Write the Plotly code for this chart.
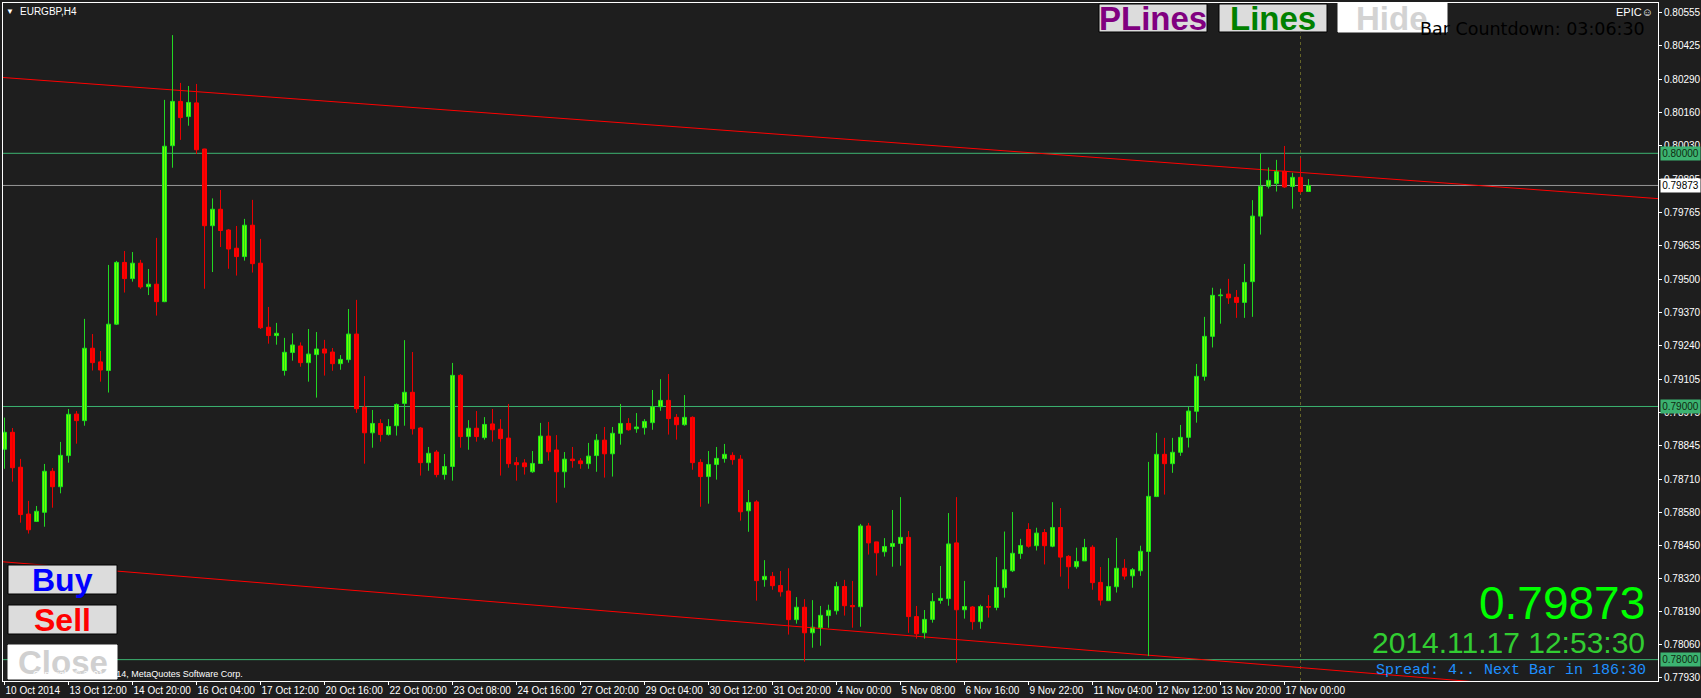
import plotly.graph_objects as go

# ---------------- data (EURGBP H4) ----------------
opens = [0.78831, 0.78898, 0.78760, 0.78575, 0.78546, 0.78582, 0.78744, 0.78683, 0.78806, 0.78970,
         0.78944, 0.79230, 0.79176, 0.79142, 0.79325, 0.79569, 0.79505, 0.79566, 0.79473, 0.79483,
         0.79414, 0.80030, 0.80205, 0.80145, 0.80199, 0.80017, 0.79714, 0.79779, 0.79697, 0.79625,
         0.79592, 0.79716, 0.79566, 0.79313, 0.79280, 0.79142, 0.79213, 0.79239, 0.79173, 0.79205,
         0.79227, 0.79215, 0.79169, 0.79185, 0.79286, 0.78997, 0.78896, 0.78933, 0.78889, 0.78924,
         0.79012, 0.79056, 0.78915, 0.78778, 0.78820, 0.78731, 0.78763, 0.79123, 0.78881, 0.78914,
         0.78877, 0.78931, 0.78910, 0.78875, 0.78778, 0.78777, 0.78742, 0.78775, 0.78883, 0.78828,
         0.78742, 0.78792, 0.78785, 0.78774, 0.78806, 0.78867, 0.78813, 0.78894, 0.78933, 0.78912,
         0.78916, 0.78936, 0.78999, 0.79024, 0.78957, 0.78928, 0.78957, 0.78779, 0.78723, 0.78771,
         0.78794, 0.78807, 0.78792, 0.78588, 0.78623, 0.78316, 0.78329, 0.78293, 0.78271, 0.78158,
         0.78207, 0.78106, 0.78126, 0.78174, 0.78193, 0.78289, 0.78214, 0.78209, 0.78528, 0.78465,
         0.78426, 0.78447, 0.78459, 0.78483, 0.78170, 0.78106, 0.78159, 0.78234, 0.78241, 0.78461,
         0.78197, 0.78208, 0.78150, 0.78210, 0.78206, 0.78284, 0.78351, 0.78419, 0.78514, 0.78450,
         0.78502, 0.78448, 0.78522, 0.78408, 0.78367, 0.78390, 0.78444, 0.78305, 0.78233, 0.78288,
         0.78361, 0.78331, 0.78351, 0.78427, 0.78644, 0.78811, 0.78774, 0.78819, 0.78878, 0.78981,
         0.79119, 0.79277, 0.79438, 0.79444, 0.79431, 0.79411, 0.79493, 0.79752, 0.79870, 0.79881,
         0.79929, 0.79869, 0.79905, 0.79849]
highs = [0.78956, 0.78915, 0.78793, 0.78627, 0.78607, 0.78773, 0.78757, 0.78860, 0.78990, 0.78982,
         0.79346, 0.79286, 0.79219, 0.79559, 0.79575, 0.79614, 0.79610, 0.79579, 0.79543, 0.79666,
         0.80211, 0.80467, 0.80278, 0.80266, 0.80274, 0.80018, 0.79822, 0.79855, 0.79701, 0.79713,
         0.79741, 0.79816, 0.79662, 0.79393, 0.79330, 0.79271, 0.79289, 0.79253, 0.79306, 0.79294,
         0.79263, 0.79231, 0.79203, 0.79385, 0.79421, 0.79120, 0.78986, 0.78950, 0.78950, 0.79012,
         0.79262, 0.79215, 0.78919, 0.78840, 0.78828, 0.78812, 0.79172, 0.79128, 0.78946, 0.78982,
         0.78958, 0.78990, 0.78950, 0.79010, 0.78800, 0.78792, 0.78824, 0.78935, 0.78939, 0.78887,
         0.78820, 0.78840, 0.78796, 0.78856, 0.78891, 0.78919, 0.78919, 0.79010, 0.78954, 0.78974,
         0.78950, 0.79065, 0.79108, 0.79128, 0.78970, 0.79045, 0.78961, 0.78792, 0.78824, 0.78840,
         0.78852, 0.78819, 0.78808, 0.78670, 0.78630, 0.78393, 0.78346, 0.78350, 0.78361, 0.78247,
         0.78239, 0.78235, 0.78212, 0.78217, 0.78307, 0.78315, 0.78311, 0.78536, 0.78540, 0.78465,
         0.78480, 0.78591, 0.78642, 0.78508, 0.78212, 0.78196, 0.78263, 0.78370, 0.78579, 0.78642,
         0.78311, 0.78212, 0.78217, 0.78255, 0.78405, 0.78506, 0.78583, 0.78477, 0.78539, 0.78521,
         0.78516, 0.78622, 0.78599, 0.78413, 0.78442, 0.78477, 0.78452, 0.78366, 0.78401, 0.78481,
         0.78397, 0.78362, 0.78450, 0.78781, 0.78896, 0.78876, 0.78876, 0.78927, 0.78998, 0.79168,
         0.79354, 0.79469, 0.79465, 0.79504, 0.79460, 0.79563, 0.79815, 0.80000, 0.79944, 0.79974,
         0.80029, 0.79923, 0.79982, 0.79898]
lows = [0.78754, 0.78703, 0.78541, 0.78498, 0.78544, 0.78525, 0.78600, 0.78657, 0.78778, 0.78853,
        0.78924, 0.79142, 0.79098, 0.79055, 0.79322, 0.79450, 0.79493, 0.79465, 0.79440, 0.79359,
        0.79412, 0.79943, 0.80053, 0.80109, 0.79997, 0.79465, 0.79531, 0.79630, 0.79544, 0.79517,
        0.79576, 0.79529, 0.79306, 0.79248, 0.79244, 0.79122, 0.79181, 0.79157, 0.79098, 0.79035,
        0.79122, 0.79141, 0.79145, 0.79173, 0.78975, 0.78774, 0.78837, 0.78861, 0.78885, 0.78885,
        0.78924, 0.78889, 0.78727, 0.78746, 0.78720, 0.78711, 0.78707, 0.78837, 0.78829, 0.78861,
        0.78869, 0.78861, 0.78727, 0.78758, 0.78707, 0.78731, 0.78738, 0.78773, 0.78786, 0.78620,
        0.78679, 0.78758, 0.78754, 0.78754, 0.78742, 0.78719, 0.78723, 0.78849, 0.78904, 0.78896,
        0.78889, 0.78908, 0.78983, 0.78889, 0.78869, 0.78924, 0.78750, 0.78604, 0.78616, 0.78711,
        0.78778, 0.78770, 0.78549, 0.78505, 0.78233, 0.78288, 0.78276, 0.78249, 0.78099, 0.78142,
        0.77992, 0.78047, 0.78055, 0.78126, 0.78178, 0.78174, 0.78126, 0.78130, 0.78415, 0.78332,
        0.78407, 0.78367, 0.78371, 0.78106, 0.78083, 0.78083, 0.78146, 0.78221, 0.78213, 0.77988,
        0.78162, 0.78118, 0.78122, 0.78166, 0.78195, 0.78245, 0.78346, 0.78398, 0.78442, 0.78431,
        0.78376, 0.78444, 0.78328, 0.78280, 0.78359, 0.78390, 0.78276, 0.78214, 0.78233, 0.78265,
        0.78316, 0.78284, 0.78331, 0.78014, 0.78644, 0.78652, 0.78738, 0.78805, 0.78838, 0.78936,
        0.79102, 0.79233, 0.79327, 0.79405, 0.79350, 0.79350, 0.79354, 0.79679, 0.79861, 0.79849,
        0.79863, 0.79781, 0.79841, 0.79849]
closes = [0.78898, 0.78758, 0.78573, 0.78513, 0.78586, 0.78744, 0.78683, 0.78807, 0.78969, 0.78944,
          0.79230, 0.79173, 0.79144, 0.79325, 0.79569, 0.79505, 0.79566, 0.79472, 0.79483, 0.79414,
          0.80028, 0.80205, 0.80141, 0.80201, 0.80014, 0.79714, 0.79779, 0.79695, 0.79622, 0.79592,
          0.79716, 0.79564, 0.79311, 0.79280, 0.79289, 0.79214, 0.79243, 0.79173, 0.79207, 0.79227,
          0.79211, 0.79169, 0.79186, 0.79286, 0.78991, 0.78896, 0.78933, 0.78889, 0.78921, 0.79008,
          0.79056, 0.78912, 0.78778, 0.78815, 0.78731, 0.78763, 0.79123, 0.78881, 0.78914, 0.78881,
          0.78929, 0.78908, 0.78873, 0.78774, 0.78770, 0.78762, 0.78775, 0.78883, 0.78821, 0.78742,
          0.78792, 0.78786, 0.78774, 0.78804, 0.78867, 0.78813, 0.78894, 0.78933, 0.78908, 0.78919,
          0.78941, 0.78999, 0.79024, 0.78952, 0.78928, 0.78957, 0.78778, 0.78723, 0.78771, 0.78795,
          0.78811, 0.78790, 0.78584, 0.78621, 0.78312, 0.78329, 0.78292, 0.78268, 0.78158, 0.78207,
          0.78106, 0.78128, 0.78175, 0.78195, 0.78289, 0.78213, 0.78209, 0.78528, 0.78461, 0.78422,
          0.78447, 0.78459, 0.78483, 0.78170, 0.78102, 0.78159, 0.78230, 0.78242, 0.78457, 0.78197,
          0.78210, 0.78150, 0.78210, 0.78207, 0.78285, 0.78355, 0.78420, 0.78451, 0.78448, 0.78500,
          0.78450, 0.78522, 0.78405, 0.78367, 0.78388, 0.78443, 0.78304, 0.78235, 0.78289, 0.78361,
          0.78330, 0.78355, 0.78428, 0.78645, 0.78811, 0.78774, 0.78819, 0.78878, 0.78982, 0.79119,
          0.79277, 0.79439, 0.79440, 0.79429, 0.79411, 0.79490, 0.79752, 0.79870, 0.79893, 0.79929,
          0.79867, 0.79905, 0.79849, 0.79873]

time_tick_bars = [0, 8, 16, 24, 32, 40, 48, 56, 64, 72, 80, 88, 96, 104, 112, 120, 128, 136, 144, 152, 160]
time_tick_text = ["10 Oct 2014", "13 Oct 12:00", "14 Oct 20:00", "16 Oct 04:00", "17 Oct 12:00",
                  "20 Oct 16:00", "22 Oct 00:00", "23 Oct 08:00", "24 Oct 16:00", "27 Oct 20:00",
                  "29 Oct 04:00", "30 Oct 12:00", "31 Oct 20:00", "4 Nov 00:00", "5 Nov 08:00",
                  "6 Nov 16:00", "9 Nov 22:00", "11 Nov 04:00", "12 Nov 12:00", "13 Nov 20:00",
                  "17 Nov 00:00"]
price_ticks = [0.80555, 0.80425, 0.80290, 0.80160, 0.80030, 0.79895, 0.79765, 0.79635, 0.79500,
               0.79370, 0.79240, 0.79105, 0.78975, 0.78845, 0.78710, 0.78580, 0.78450, 0.78320,
               0.78190, 0.78060, 0.77930]
level_lines = [0.80000, 0.79000, 0.78000]
bid_price = 0.79873
upper_trend_bars = [0, 163]
upper_trend_prices = [0.80299, 0.79922]
lower_trend_bars = [0, 163]
lower_trend_prices = [0.78386, 0.77966]
separator_bar = 162

# ---------------- layout geometry ----------------
W, H = 1701, 698
PL, PR, PT, PB = 3, 1658, 3, 681
X_RANGE = [-0.1875, 206.6875]
Y_RANGE = [0.779156, 0.805937]
BG = "#1e1e1e"


def px_x(px):
    return (px - PL) / (PR - PL)


def px_y(py):
    return (PB - py) / (PB - PT)


fig = go.Figure()

shapes = []
for lv in level_lines:
    shapes.append(dict(type="line", xref="paper", yref="y", x0=0, x1=1, y0=lv, y1=lv,
                       line=dict(color="#3cb371", width=1), layer="below"))
shapes.append(dict(type="line", xref="paper", yref="y", x0=0, x1=1, y0=bid_price, y1=bid_price,
                   line=dict(color="#969696", width=1), layer="below"))
shapes.append(dict(type="line", xref="x", yref="paper", x0=separator_bar, x1=separator_bar, y0=0, y1=1,
                   line=dict(color="rgb(100,100,40)", width=1, dash="3px,3px"), layer="below"))


def extend(bars, prices):
    slope = (prices[1] - prices[0]) / (bars[1] - bars[0])
    xa, xb = X_RANGE
    return [xa, xb], [prices[0] + slope * (xa - bars[0]), prices[0] + slope * (xb - bars[0])]


for b, p in [(upper_trend_bars, upper_trend_prices), (lower_trend_bars, lower_trend_prices)]:
    xs, ys = extend(b, p)
    fig.add_trace(go.Scatter(x=xs, y=ys, mode="lines", line=dict(color="#ff0000", width=1),
                             hoverinfo="skip", cliponaxis=True))

n = len(opens)
bull = [i for i in range(n) if closes[i] >= opens[i]]
bear = [i for i in range(n) if closes[i] < opens[i]]
MIN_BODY = 0.00003


def wicks(ids):
    xs, ys = [], []
    for i in ids:
        xs += [i, i, None]
        ys += [lows[i], highs[i], None]
    return xs, ys


def bodies(ids):
    base, hh = [], []
    for i in ids:
        lo, hi = min(opens[i], closes[i]), max(opens[i], closes[i])
        d = hi - lo
        if d < MIN_BODY:
            lo -= (MIN_BODY - d) / 2
            d = MIN_BODY
        base.append(lo)
        hh.append(d)
    return base, hh


for ids, wcol, fill, border in [(bull, "#22d822", "#70ff00", "#18e818"),
                                (bear, "#e80000", "#ff0000", "#ff0000")]:
    wx, wy = wicks(ids)
    fig.add_trace(go.Scatter(x=wx, y=wy, mode="lines", line=dict(color=wcol, width=1),
                             hoverinfo="skip"))
    base, hh = bodies(ids)
    fig.add_trace(go.Bar(x=ids, y=hh, base=base, width=0.5,
                         marker=dict(color=fill, line=dict(color=border, width=1)),
                         hoverinfo="skip"))


def rect(x0, y0, x1, y1, fill, line):
    return dict(type="rect", xref="paper", yref="paper", x0=px_x(x0), x1=px_x(x1),
                y0=px_y(y1), y1=px_y(y0), fillcolor=fill, line=dict(color=line, width=1), layer="above")


shapes += [
    rect(1099, 4, 1207, 32, "#dcdcdc", "#000000"),
    rect(1219, 4, 1327, 32, "#dcdcdc", "#000000"),
    rect(1338, 3, 1447, 32, "#ffffff", "#ffffff"),
    rect(8, 565, 117, 594, "#dcdcdc", "#000000"),
    rect(8, 605, 117, 634, "#dcdcdc", "#000000"),
    rect(8, 645, 117, 679, "#ffffff", "#ffffff"),
]

ann = []


def text(t, x, y, size, color, family="Liberation Sans", xanchor="center", **kw):
    d = dict(text=t, xref="paper", yref="paper", x=px_x(x), y=px_y(y), xanchor=xanchor,
             yanchor="middle", showarrow=False, font=dict(family=family, size=size, color=color))
    d.update(kw)
    ann.append(d)


text("<b>PLines</b>", 1153, 18, 33, "#800080")
text("<b>Lines</b>", 1273, 18, 33, "#008000")
text("<b>Hide</b>", 1392, 18, 33, "#d3d3d3")
text("Bar Countdown: 03:06:30", 1647, 29, 17.5, "#000000", family="DejaVu Sans", xanchor="right")
text("EPIC☺", 1655, 12, 11, "#ffffff", xanchor="right")
text("▼", 10, 11, 8, "#ffffff")
text("EURGBP,H4", 18, 11, 10, "#ffffff", xanchor="left")
text("<b>Buy</b>", 62.5, 580, 32, "#0000ff")
text("<b>Sell</b>", 62.5, 620, 32, "#ff0000")
text("<b>Close</b>", 62.5, 662, 33, "#d0d0d0")
text("Copyright © 2001-2014, MetaQuotes Software Corp.", 245, 674, 9, "#ffffff", xanchor="right")
text("0.79873", 1647, 603, 46, "#00ff00", xanchor="right")
text("2014.11.17 12:53:30", 1647, 642, 30, "#32cd32", xanchor="right")
text("Spread: 4.. Next Bar in 186:30", 1648, 670, 15, "#1e90ff", family="Liberation Mono",
     xanchor="right")

for lv in level_lines:
    ann.append(dict(text=f"{lv:.5f}", xref="paper", yref="y", x=px_x(1660), y=lv, xanchor="left",
                    yanchor="middle", showarrow=False, bgcolor="#3cb371", borderpad=1, width=37,
                    font=dict(family="Liberation Sans", size=10, color="#102a10")))
ann.append(dict(text=f"{bid_price:.5f}", xref="paper", yref="y", x=px_x(1660), y=bid_price,
                xanchor="left", yanchor="middle", showarrow=False, bgcolor="#ffffff", borderpad=1,
                width=37, font=dict(family="Liberation Sans", size=10, color="#000000")))

fig.update_layout(
    width=W, height=H,
    margin=dict(l=PL, r=W - PR, t=PT, b=H - PB, pad=0, autoexpand=False),
    paper_bgcolor=BG, plot_bgcolor=BG,
    showlegend=False, barmode="overlay",
    shapes=shapes, annotations=ann,
    xaxis=dict(range=X_RANGE, tickvals=time_tick_bars, ticktext=time_tick_text,
               ticks="outside", ticklen=3, tickcolor="#ffffff", ticklabelposition="outside right",
               tickangle=0, automargin=False,
               tickfont=dict(family="Liberation Sans", size=10, color="#ffffff"),
               showgrid=False, zeroline=False, showline=True, linecolor="#ffffff", linewidth=1,
               mirror=True, fixedrange=True),
    yaxis=dict(range=Y_RANGE, side="right", tickvals=price_ticks,
               ticktext=[f"{p:.5f}" for p in price_ticks], automargin=False,
               ticks="outside", ticklen=3, tickcolor="#ffffff",
               tickfont=dict(family="Liberation Sans", size=10, color="#ffffff"),
               showgrid=False, zeroline=False, showline=True, linecolor="#ffffff", linewidth=1,
               mirror=True, fixedrange=True),
)

fig.write_html("out.html", config={"displayModeBar": False})
